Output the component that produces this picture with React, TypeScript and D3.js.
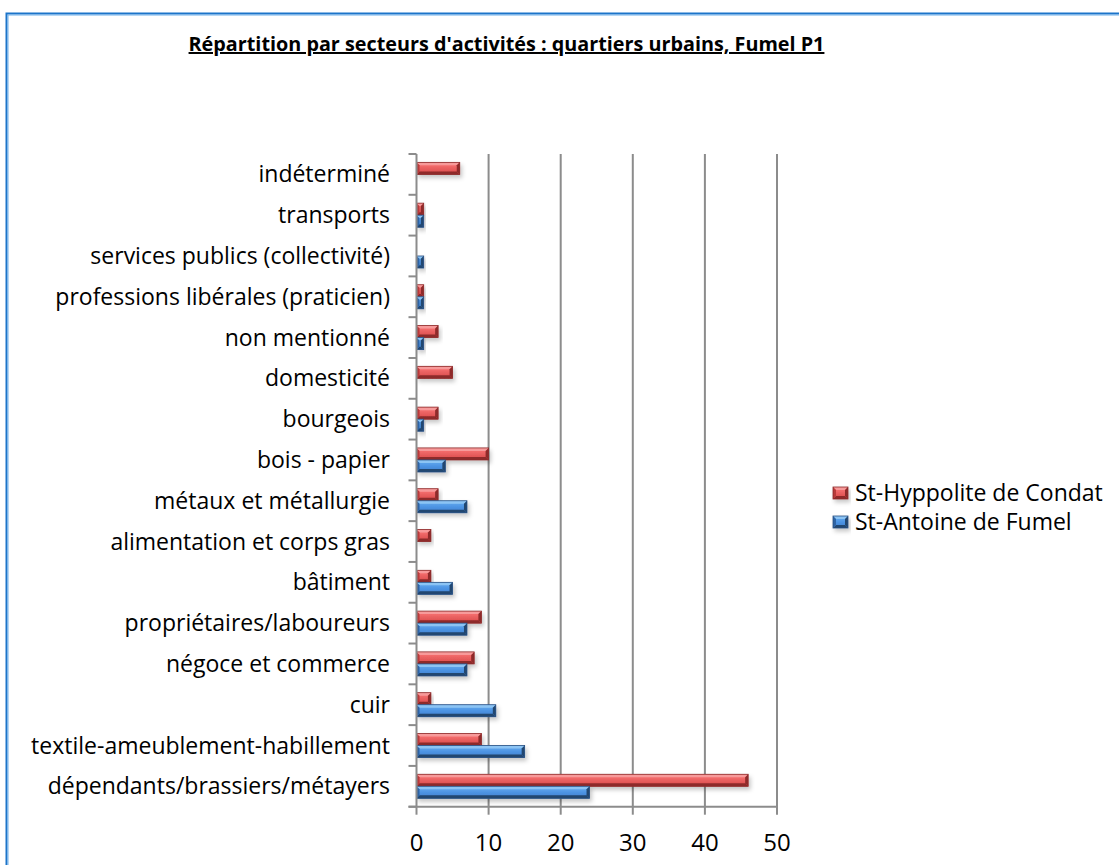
import React from "react";
import * as d3 from "d3";

const categories = [
  "dépendants/brassiers/métayers",
  "textile-ameublement-habillement",
  "cuir",
  "négoce et commerce",
  "propriétaires/laboureurs",
  "bâtiment",
  "alimentation et corps gras",
  "métaux et métallurgie",
  "bois - papier",
  "bourgeois",
  "domesticité",
  "non mentionné",
  "professions libérales (praticien)",
  "services publics (collectivité)",
  "transports",
  "indéterminé",
];
const hyppolite = [46, 9, 2, 8, 9, 2, 2, 3, 10, 3, 5, 3, 1, 0, 1, 6];
const antoine = [24, 15, 11, 7, 7, 5, 0, 7, 4, 1, 0, 1, 1, 1, 1, 0];
const xTicks = [0, 10, 20, 30, 40, 50];
const seriesNames = ["St-Hyppolite de Condat", "St-Antoine de Fumel"];
const title = "Répartition par secteurs d'activités : quartiers urbains, Fumel P1";

const W = 1119, H = 865;
const plot = { left: 416.5, right: 777, top: 154, bottom: 806.7 };

const pal = {
  red: { light: "#f79a9a", face1: "#ff7b7b", face2: "#d94848", dark: "#8e2a2a", side: "#b83a3a", stroke: "#8a2a2a" },
  blue: { light: "#8cc4f4", face1: "#6aaff0", face2: "#3f7fcc", dark: "#23466f", side: "#2f63a3", stroke: "#294f80" },
};

function BevelBar({ x0, x1, y0, y1, c, gid }: any) {
  const w = x1 - x0, h = y1 - y0;
  if (w <= 0) return null;
  const b = Math.min(3, w / 2.5, h / 3);
  const pts = (a: number[][]) => a.map((p) => p.join(",")).join(" ");
  return (
    <g filter="url(#shadow)">
      <rect x={x0} y={y0} width={w} height={h} fill={`url(#${gid})`} />
      <polygon points={pts([[x0, y0], [x1, y0], [x1 - b, y0 + b], [x0 + b, y0 + b]])} fill={c.light} />
      <polygon points={pts([[x0, y1], [x1, y1], [x1 - b, y1 - b], [x0 + b, y1 - b]])} fill={c.dark} />
      <polygon points={pts([[x0, y0], [x0 + b, y0 + b], [x0 + b, y1 - b], [x0, y1]])} fill={c.side} />
      <polygon points={pts([[x1, y0], [x1 - b, y0 + b], [x1 - b, y1 - b], [x1, y1]])} fill={c.dark} />
      <rect x={x0} y={y0} width={w} height={h} fill="none" stroke={c.stroke} strokeWidth={0.8} />
    </g>
  );
}

export default function App() {
  const x = d3.scaleLinear().domain([0, 50]).range([plot.left, plot.right]);
  const y = d3.scaleBand<string>().domain([...categories].reverse()).range([plot.top, plot.bottom]);
  const bw = y.bandwidth();
  const barH = bw * 0.295;
  const font = "'Open Sans', sans-serif";
  const tickEdges = d3.range(categories.length + 1).map((i) => plot.top + i * bw);

  return (
    <svg width={W} height={H} style={{ position: "absolute", left: 0, top: 0, display: "block" }}>
      <defs>
        <filter id="shadow" x="-10%" y="-30%" width="130%" height="200%">
          <feDropShadow dx="2" dy="3" stdDeviation="2" floodColor="#000" floodOpacity="0.22" />
        </filter>
        <linearGradient id="gRed" x1="0" y1="0" x2="0" y2="1">
          <stop offset="0" stopColor={pal.red.face1} />
          <stop offset="0.5" stopColor="#e96060" />
          <stop offset="1" stopColor={pal.red.face2} />
        </linearGradient>
        <linearGradient id="gBlue" x1="0" y1="0" x2="0" y2="1">
          <stop offset="0" stopColor={pal.blue.face1} />
          <stop offset="0.5" stopColor="#4d94e4" />
          <stop offset="1" stopColor={pal.blue.face2} />
        </linearGradient>
      </defs>
      <rect x={0} y={0} width={W} height={H} fill="#fff" />
      <rect x={6.5} y={13.5} width={W + 20} height={H + 20} fill="none" stroke="#1c74c9" strokeWidth={2} />
      <rect x={8} y={15} width={W + 20} height={H + 20} fill="none" stroke="#6fb0ea" strokeWidth={1} />

      <text x={506.5} y={51} textAnchor="middle" fontFamily={font} fontWeight="bold" fontSize={19.8} textDecoration="underline" fill="#000">
        {title}
      </text>

      {xTicks.slice(1).map((t) => (
        <line key={t} x1={x(t)} x2={x(t)} y1={plot.top} y2={plot.bottom} stroke="#8c8c8c" strokeWidth={2} />
      ))}

      {categories.map((c, i) => {
        const yc = y(c)! + bw / 2;
        return (
          <g key={c}>
            <BevelBar x0={x(0)} x1={x(hyppolite[i])} y0={yc - barH} y1={yc} c={pal.red} gid="gRed" />
            <BevelBar x0={x(0)} x1={x(antoine[i])} y0={yc} y1={yc + barH} c={pal.blue} gid="gBlue" />
          </g>
        );
      })}

      <line x1={plot.left} x2={plot.left} y1={plot.top} y2={plot.bottom} stroke="#8c8c8c" strokeWidth={2} />
      <line x1={plot.left - 8} x2={plot.right + 1} y1={plot.bottom} y2={plot.bottom} stroke="#8c8c8c" strokeWidth={2} />
      {tickEdges.map((t, i) => (
        <line key={i} x1={plot.left - 8} x2={plot.left} y1={t} y2={t} stroke="#8c8c8c" strokeWidth={2} />
      ))}
      {xTicks.map((t) => (
        <g key={t}>
          <line x1={x(t)} x2={x(t)} y1={plot.bottom} y2={plot.bottom + 8} stroke="#8c8c8c" strokeWidth={2} />
          <text x={x(t)} y={851} textAnchor="middle" fontFamily={font} fontSize={24} fill="#000">{t}</text>
        </g>
      ))}

      {categories.map((c) => (
        <text key={c} x={390} y={y(c)! + bw / 2 + 8} textAnchor="end" fontFamily={font} fontSize={23} fill="#000">
          {c}
        </text>
      ))}

      {seriesNames.map((s, i) => {
        const ly = 493 + i * 29;
        return (
          <g key={s}>
            <BevelBar x0={833} x1={848} y0={ly - 6} y1={ly + 6} c={i === 0 ? pal.red : pal.blue} gid={i === 0 ? "gRed" : "gBlue"} />
            <text x={855} y={ly + 8} fontFamily={font} fontSize={23} fill="#000">{s}</text>
          </g>
        );
      })}
    </svg>
  );
}
